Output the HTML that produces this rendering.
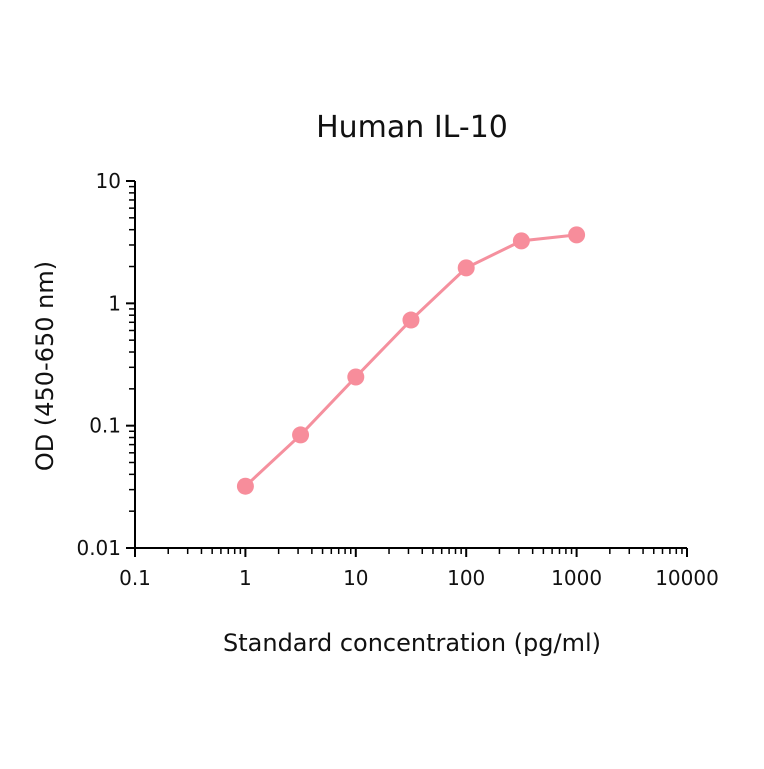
<!DOCTYPE html>
<html><head><style>
body{margin:0;background:#fff}
svg text{font-family:"DejaVu Sans","Liberation Sans",sans-serif;fill:#111}
.t{font-size:20px}
</style></head><body>
<svg width="764" height="764" id="c">
<text x="412" y="137" style="font-size:30px" text-anchor="middle">Human IL-10</text>
<text x="412" y="651" style="font-size:24px" text-anchor="middle">Standard concentration (pg/ml)</text>
<text transform="translate(53,366) rotate(-90)" style="font-size:24px" text-anchor="middle">OD (450-650 nm)</text>
<g id="ax"></g>
</svg>
<script>
const xValues=[1,3.16,10,31.6,100,316,1000];
const yValues=[0.032,0.084,0.25,0.73,1.95,3.24,3.63];
const xTicks=["0.1","1","10","100","1000","10000"];
const yTicks=["0.01","0.1","1","10"];
const X=v=>135+(Math.log10(v)+1)*110.4;
const Y=v=>548-(Math.log10(v)+2)*122.33;
const g=document.getElementById('ax');
const NS='http://www.w3.org/2000/svg';
function mk(t,a){const e=document.createElementNS(NS,t);for(const k in a)e.setAttribute(k,a[k]);g.appendChild(e);return e;}
let e=mk('line',{x1:135,y1:Y(10),x2:135,y2:Y(0.01)+1,stroke:'#000','stroke-width':2});

e=mk('line',{x1:134,y1:548,x2:X(10000),y2:548,stroke:'#000','stroke-width':2});

xTicks.forEach((t,i)=>{const v=Math.pow(10,i-1),x=X(v);
 e=mk('line',{x1:x,y1:548,x2:x,y2:557,stroke:'#000','stroke-width':2});
 
 e=mk('text',{x:x,y:585,'text-anchor':'middle',class:'t'});e.textContent=t;
 
 if(i<xTicks.length-1)for(let m=2;m<10;m++){const xm=X(v*m);
  e=mk('line',{x1:xm,y1:548,x2:xm,y2:554,stroke:'#000','stroke-width':1.5});
  }
});
yTicks.forEach((t,i)=>{const v=Math.pow(10,i-2),y=Y(v);
 e=mk('line',{x1:126,y1:y,x2:135,y2:y,stroke:'#000','stroke-width':2});
 
 e=mk('text',{x:121,y:y+7,'text-anchor':'end',class:'t'});e.textContent=t;
 
 if(i<yTicks.length-1)for(let m=2;m<10;m++){const ym=Y(v*m);
  e=mk('line',{x1:129,y1:ym,x2:135,y2:ym,stroke:'#000','stroke-width':1.5});
  }
});
e=mk('polyline',{points:xValues.map((x,i)=>X(x)+','+Y(yValues[i])).join(' '),fill:'none',stroke:'#f5909e','stroke-width':3});

xValues.forEach((x,i)=>{e=mk('circle',{cx:X(x),cy:Y(yValues[i]),r:8.5,fill:'#f78d9b'});
 });
</script>
</body></html>
